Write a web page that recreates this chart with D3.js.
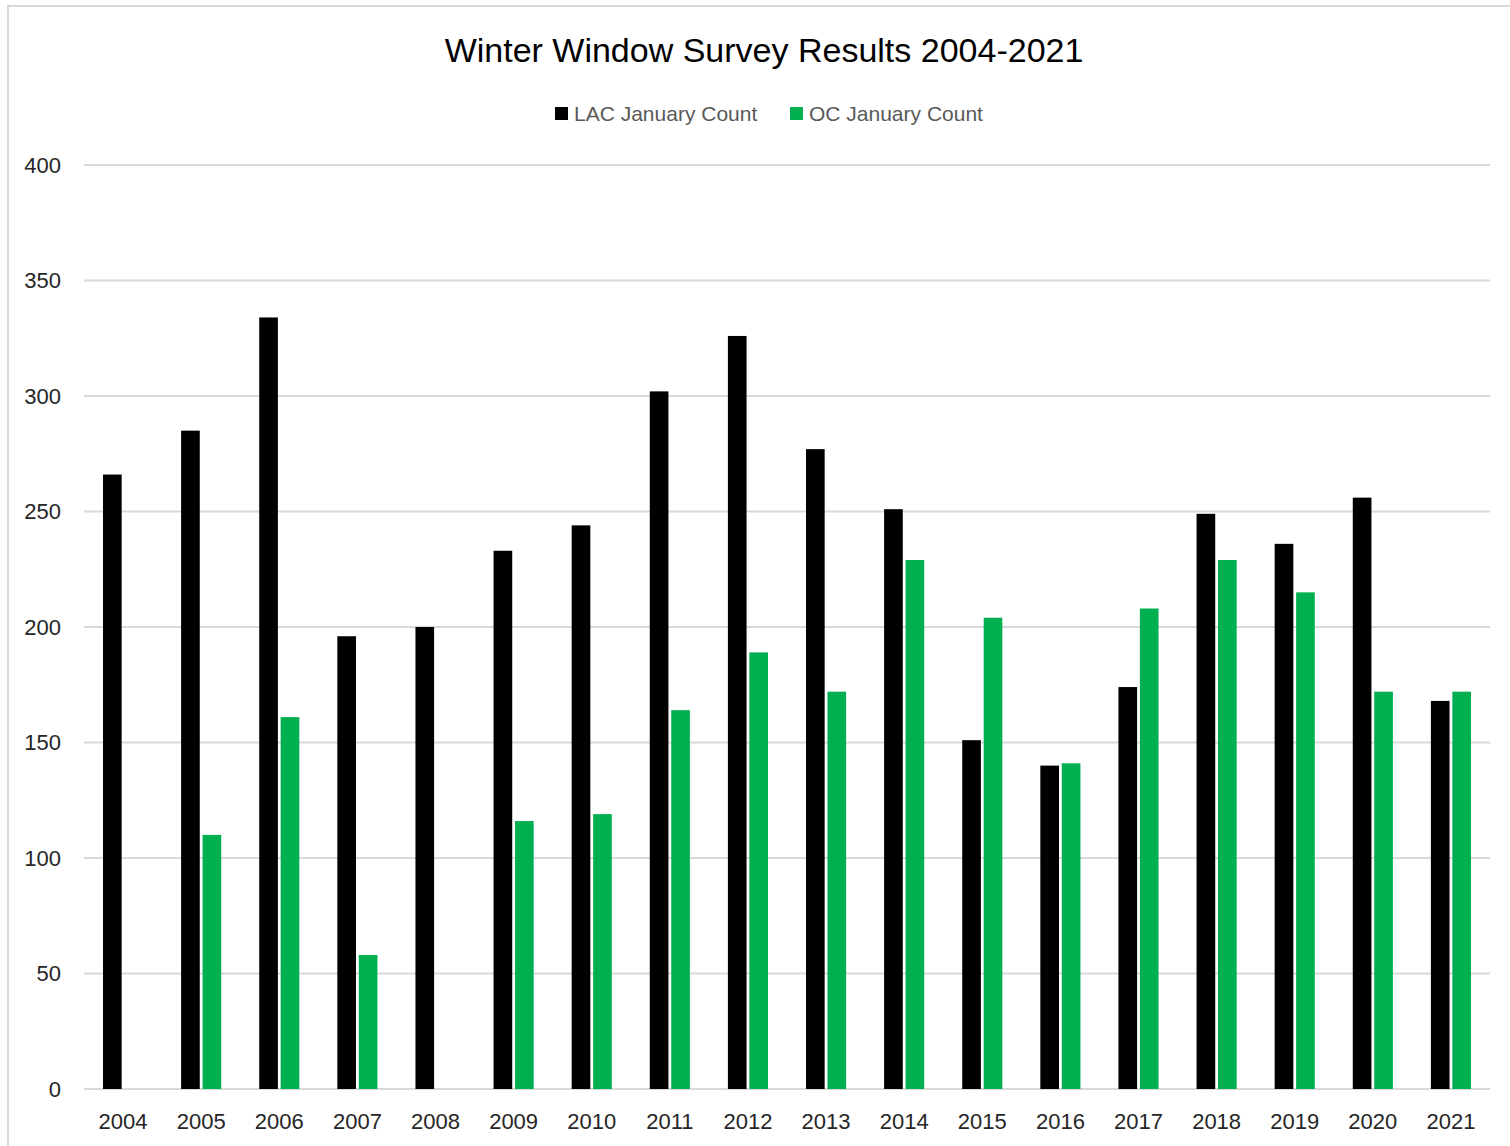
<!DOCTYPE html>
<html><head><meta charset="utf-8">
<script src="https://cdn.jsdelivr.net/npm/d3@7"></script>
<style>body{margin:0;background:#fff;} svg{display:block;font-family:"Liberation Sans",Arial,sans-serif;}</style>
</head><body>
<svg id="c" width="1510" height="1146"></svg>
<script>
const years = ["2004","2005","2006","2007","2008","2009","2010","2011","2012","2013","2014","2015","2016","2017","2018","2019","2020","2021"];
const lacValues = [266,285,334,196,200,233,244,302,326,277,251,151,140,174,249,236,256,168];
const ocValues = [null,110,161,58,null,116,119,164,189,172,229,204,141,208,229,215,172,172];
const seriesNames = ["LAC January Count","OC January Count"];
const seriesColors = ["#000000","#00b050"];
const yTicks = [0,50,100,150,200,250,300,350,400];
const titleText = "Winter Window Survey Results 2004-2021";

const svg = d3.select("#c");
// chart border
svg.append("rect").attr("x",8).attr("y",6).attr("width",1530).attr("height",1160)
  .attr("fill","#fff").attr("stroke","#d9d9d9").attr("stroke-width",2);

const m = {left:84, right:1490, top:165, bottom:1089};
const x = d3.scaleBand().domain(years).range([m.left,m.right]).paddingInner(0).paddingOuter(0);
const y = d3.scaleLinear().domain([0,400]).range([m.bottom,m.top]);
const xs = d3.scaleBand().domain([0,1]).range([19, x.bandwidth()-19]).paddingInner(0.13);

// grid
svg.append("g").selectAll("line").data(yTicks).join("line")
  .attr("x1",m.left).attr("x2",m.right).attr("y1",d=>y(d)).attr("y2",d=>y(d))
  .attr("stroke","#d9d9d9").attr("stroke-width",2);

// y labels
const yAxis = d3.axisLeft(y).tickValues(yTicks).tickSize(0).tickPadding(0);
const ya = svg.append("g").attr("transform","translate(61,0)").call(yAxis);
ya.select(".domain").remove();
ya.selectAll("text").attr("font-size",22).attr("fill","#262626").attr("font-family","Liberation Sans, Arial, sans-serif");

// x labels
const xAxis = d3.axisBottom(x).tickSize(0).tickPadding(0);
const xa = svg.append("g").attr("transform","translate(0,1113)").call(xAxis);
xa.select(".domain").remove();
xa.selectAll("text").attr("font-size",22).attr("fill","#262626").attr("font-family","Liberation Sans, Arial, sans-serif");

// bars
const data = years.map((yr,i)=>({yr, vals:[lacValues[i], ocValues[i]]}));
const groups = svg.append("g").selectAll("g").data(data).join("g")
  .attr("transform",d=>`translate(${x(d.yr)},0)`);
groups.selectAll("rect").data(d=>d.vals.map((v,k)=>({v,k})).filter(e=>e.v!=null)).join("rect")
  .attr("x",e=>xs(e.k)).attr("width",xs.bandwidth())
  .attr("y",e=>y(e.v)).attr("height",e=>y(0)-y(e.v))
  .attr("fill",e=>seriesColors[e.k]);

// title
svg.append("text").attr("x",764).attr("y",62).attr("text-anchor","middle")
  .attr("font-size",34).attr("fill","#000").text(titleText);

// legend
const legX = [555,790];
seriesNames.forEach((n,i)=>{
  svg.append("rect").attr("x",legX[i]).attr("y",107).attr("width",13).attr("height",13).attr("fill",seriesColors[i]);
  svg.append("text").attr("x",legX[i]+19).attr("y",121).attr("font-size",21).attr("fill","#595959").text(n);
});
</script>
</body></html>
